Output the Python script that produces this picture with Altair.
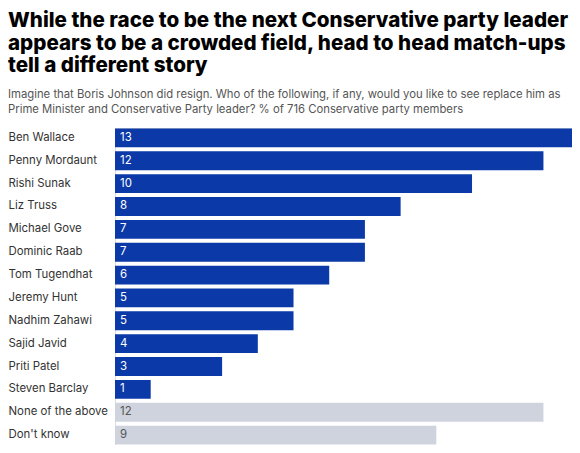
import altair as alt
import pandas as pd

names = ["Ben Wallace", "Penny Mordaunt", "Rishi Sunak", "Liz Truss", "Michael Gove",
         "Dominic Raab", "Tom Tugendhat", "Jeremy Hunt", "Nadhim Zahawi", "Sajid Javid",
         "Priti Patel", "Steven Barclay", "None of the above", "Don't know"]
values = [13, 12, 10, 8, 7, 7, 6, 5, 5, 4, 3, 1, 12, 9]
kinds = ["candidate"] * 12 + ["other", "other"]

df = pd.DataFrame({"name": names, "value": values, "kind": kinds})

FONT = "Inter"

y = alt.Y("name:N", sort=names, title=None,
          scale=alt.Scale(paddingInner=0.174, paddingOuter=0.02),
          axis=alt.Axis(domain=False, ticks=False, labelAlign="left", labelPadding=107,
                        labelFont=FONT, labelFontSize=11.4, labelColor="#333333"))
x = alt.X("value:Q", title=None, axis=None, scale=alt.Scale(domain=[0, 12.8], nice=False, zero=True))

bars = alt.Chart(df).mark_bar(cornerRadius=0, clip=True).encode(
    y=y, x=x,
    color=alt.Color("kind:N", scale=alt.Scale(domain=["candidate", "other"], range=["#0b3aa8", "#cfd3de"]), legend=None),
)

labels = alt.Chart(df).mark_text(align="left", baseline="middle", dx=5, font=FONT, fontSize=11.4).encode(
    y=alt.Y("name:N", sort=names),
    x=alt.value(0),
    text="value:Q",
    color=alt.Color("kind:N", scale=alt.Scale(domain=["candidate", "other"], range=["#ffffff", "#555555"]), legend=None),
)

chart = alt.layer(bars, labels).resolve_scale(color="independent").properties(
    width=457, height=317,
    title=alt.TitleParams(
        text=["While the race to be the next Conservative party leader",
              "appears to be a crowded field, head to head match-ups",
              "tell a different story"],
        subtitle=["Imagine that Boris Johnson did resign. Who of the following, if any, would you like to see replace him as",
                  "Prime Minister and Conservative Party leader? % of 716 Conservative party members"],
        anchor="start", frame="bounds",
        font=FONT, fontSize=20.6, fontWeight=800, color="#000000", lineHeight=22.4,
        subtitleFont=FONT, subtitleFontSize=11.3, subtitleColor="#555555", subtitleLineHeight=15,
        subtitlePadding=12, offset=13,
    ),
).configure_view(stroke=None).configure(padding={"top": 3, "left": 0, "right": 0, "bottom": 0})

chart.save("out.html", embed_options={"renderer": "svg", "actions": False})
